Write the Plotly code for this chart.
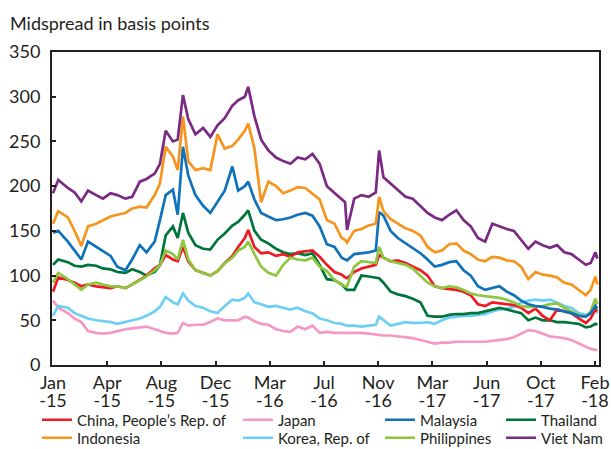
import plotly.graph_objects as go

dates = [
    "2015-01-01", "2015-01-12", "2015-02-01", "2015-02-15", "2015-03-01", "2015-03-15",
    "2015-04-01", "2015-04-15", "2015-05-01", "2015-05-15", "2015-06-01", "2015-06-15",
    "2015-07-01", "2015-07-15", "2015-08-01", "2015-08-12", "2015-08-24", "2015-09-08",
    "2015-09-18", "2015-09-29", "2015-10-10", "2015-10-25", "2015-11-10", "2015-11-25",
    "2015-12-10", "2015-12-25", "2016-01-10", "2016-01-22", "2016-02-05", "2016-02-12",
    "2016-02-25", "2016-03-10", "2016-03-25", "2016-04-10", "2016-04-25", "2016-05-10",
    "2016-05-25", "2016-06-10", "2016-06-25", "2016-07-10", "2016-07-25", "2016-08-10",
    "2016-08-25", "2016-09-01", "2016-09-05", "2016-09-20", "2016-10-05", "2016-10-20",
    "2016-11-04", "2016-11-11", "2016-11-20", "2016-12-05", "2016-12-20", "2017-01-05",
    "2017-01-20", "2017-02-05", "2017-02-20", "2017-03-07", "2017-03-22", "2017-04-06",
    "2017-04-21", "2017-05-06", "2017-05-21", "2017-06-05", "2017-06-20", "2017-07-05",
    "2017-07-20", "2017-08-04", "2017-08-19", "2017-09-03", "2017-09-18", "2017-10-03",
    "2017-10-18", "2017-11-02", "2017-11-17", "2017-12-02", "2017-12-17", "2018-01-01",
    "2018-01-16", "2018-01-26", "2018-02-05", "2018-02-09",
]

viet_nam = [192, 207, 198, 193, 183, 195, 190, 186, 192, 190, 186, 188, 205, 208, 214, 225,
            262, 250, 252, 302, 275, 258, 265, 255, 268, 276, 290, 296, 300, 311, 278, 252,
            240, 232, 228, 225, 232, 230, 236, 225, 200, 192, 185, 182, 151, 186, 190, 188,
            193, 240, 210, 203, 196, 188, 186, 178, 170, 165, 162, 168, 173, 162, 155, 142,
            138, 158, 155, 152, 150, 140, 130, 138, 134, 131, 134, 126, 124, 118, 112, 114,
            126, 119]
indonesia = [158, 172, 165, 150, 133, 155, 158, 162, 166, 168, 170, 175, 177, 176, 190, 203,
             244, 233, 218, 278, 228, 218, 220, 218, 258, 242, 245, 252, 262, 270, 242, 182,
             205, 200, 192, 195, 199, 198, 192, 185, 162, 158, 142, 140, 137, 150, 152, 156,
             158, 188, 172, 163, 158, 153, 150, 145, 132, 126, 128, 135, 136, 128, 124, 118,
             116, 121, 120, 117, 116, 110, 96, 104, 101, 100, 98, 92, 90, 84, 78, 84,
             99, 90]
malaysia = [148, 150, 138, 128, 118, 138, 132, 128, 122, 110, 106, 118, 134, 126, 138, 162,
            190, 196, 168, 244, 212, 190, 178, 170, 182, 195, 222, 195, 200, 205, 185, 170,
            166, 162, 163, 165, 168, 170, 167, 155, 135, 132, 120, 118, 117, 124, 125, 126,
            128, 171, 167, 150, 142, 136, 130, 125, 118, 110, 112, 115, 116, 106, 100, 88,
            84, 86, 88, 82, 78, 72, 68, 66, 65, 63, 62, 60, 58, 55, 54, 58,
            66, 63]
thailand = [112, 118, 115, 111, 110, 112, 111, 108, 107, 104, 103, 107, 104, 100, 104, 112,
            145, 155, 142, 170, 148, 134, 130, 129, 140, 147, 156, 160, 168, 173, 150, 140,
            136, 130, 126, 124, 125, 123, 125, 112, 96, 95, 90, 86, 84, 84, 100, 99,
            98, 97, 92, 82, 79, 77, 74, 70, 55, 54, 54, 56, 57, 57, 58, 58,
            60, 62, 64, 62, 60, 58, 50, 53, 50, 50, 48, 48, 47, 46, 42, 43,
            46, 45]
china = [82, 98, 95, 92, 88, 90, 88, 87, 86, 88, 86, 90, 95, 100, 108, 112,
         123, 118, 116, 132, 116, 106, 103, 100, 105, 114, 122, 132, 142, 151, 132, 125,
         126, 122, 124, 121, 126, 127, 128, 121, 112, 104, 101, 98, 97, 104, 108, 110,
         112, 123, 120, 116, 117, 114, 110, 106, 100, 88, 86, 85, 84, 82, 78, 68,
         66, 70, 69, 68, 67, 64, 58, 63, 55, 50, 62, 60, 58, 52, 47, 52,
         62, 60]
philippines = [92, 103, 96, 90, 84, 90, 92, 90, 88, 88, 86, 90, 95, 99, 106, 112,
               128, 124, 118, 140, 118, 106, 103, 100, 105, 114, 120, 128, 132, 138, 124, 110,
               103, 100, 112, 120, 118, 117, 120, 110, 105, 95, 90, 88, 88, 110, 116, 115,
               114, 132, 120, 116, 114, 112, 108, 100, 92, 88, 86, 88, 87, 84, 80, 78,
               77, 76, 75, 73, 70, 66, 65, 65, 66, 68, 69, 64, 60, 56, 54, 60,
               74, 68]
korea = [55, 66, 64, 58, 55, 52, 50, 49, 48, 46, 48, 50, 52, 55, 60, 65,
         76, 70, 68, 80, 72, 66, 64, 60, 58, 66, 73, 72, 75, 80, 70, 68,
         65, 66, 64, 62, 64, 60, 58, 52, 50, 47, 46, 45, 44, 44, 43, 44,
         45, 54, 50, 44, 46, 48, 47, 47, 48, 46, 50, 53, 54, 55, 55, 56,
         57, 60, 62, 63, 65, 70, 72, 73, 72, 73, 70, 66, 64, 58, 56, 57,
         62, 58]
japan = [72, 64, 58, 52, 48, 38, 36, 35, 36, 38, 40, 41, 42, 43, 40, 38,
         36, 35, 36, 47, 44, 45, 45, 48, 52, 50, 50, 50, 54, 53, 49, 46,
         45, 40, 38, 37, 43, 40, 44, 36, 37, 36, 36, 36, 36, 36, 36, 35,
         34, 34, 33, 33, 32, 31, 30, 28, 26, 24, 25, 25, 26, 26, 26, 26,
         26, 27, 28, 29, 31, 35, 39, 38, 35, 32, 31, 30, 28, 24, 20, 18,
         17, 17]

tick_dates = ["2015-01-01", "2015-04-24", "2015-08-15", "2015-12-06", "2016-03-28",
              "2016-07-19", "2016-11-09", "2017-03-02", "2017-06-23", "2017-10-14",
              "2018-02-04"]
tick_months = ["Jan", "Apr", "Aug", "Dec", "Mar", "Jul", "Nov", "Mar", "Jun", "Oct", "Feb"]
tick_years = ["-15", "-15", "-15", "-15", "-16", "-16", "-16", "-17", "-17", "-17", "-18"]

# (name, values, colour, legend column left px, legend row centre px)
series = [
    ("Japan", japan, "#F49AC2", 238, 420),
    ("Korea, Rep. of", korea, "#6DCFF6", 238, 438),
    ("Thailand", thailand, "#00753A", 501, 420),
    ("China, People\u2019s Rep. of", china, "#ED1C24", 37, 420),
    ("Philippines", philippines, "#8DC63F", 380, 438),
    ("Malaysia", malaysia, "#0F72BA", 380, 420),
    ("Indonesia", indonesia, "#F7941D", 37, 438),
    ("Viet Nam", viet_nam, "#7B2A83", 501, 438),
]

FONT = "Lato, 'Open Sans', sans-serif"
TXT = "#231F20"
L, R, T, B = 52, 599, 52, 365
XRANGE = ["2014-12-29 22:00", "2018-02-12 10:00"]

fig = go.Figure()
legends = {}
for i, (name, vals, color, lx, ly) in enumerate(series):
    lid = "legend" if i == 0 else f"legend{i + 1}"
    fig.add_trace(go.Scatter(
        x=dates, y=vals, mode="lines", name=name,
        line=dict(color=color, width=2.7), legend=lid,
    ))
    legends[lid] = dict(
        x=(lx - L) / (R - L), xref="paper", xanchor="left",
        y=(B - ly) / (B - T), yref="paper", yanchor="middle",
        orientation="v", bgcolor="rgba(0,0,0,0)", borderwidth=0,
        font=dict(family=FONT, size=15, color=TXT), itemwidth=30,
    )

# empty helper trace so the second row of x labels (years) has an axis
fig.add_trace(go.Scatter(x=[], y=[], xaxis="x2", showlegend=False, hoverinfo="skip"))

fig.update_layout(
    width=611, height=449,
    margin=dict(l=L, r=611 - R, t=T, b=449 - B, autoexpand=False),
    paper_bgcolor="white", plot_bgcolor="white",
    font=dict(family=FONT, color=TXT),
    title=dict(text="Midspread in basis points", x=10 / 611, xref="container",
               xanchor="left", y=1 - 24 / 449, yref="container", yanchor="middle",
               font=dict(family=FONT, size=18, color=TXT)),
    showlegend=True,
    xaxis=dict(
        type="date", range=XRANGE,
        tickvals=tick_dates, ticktext=tick_months,
        ticks="inside", ticklen=4, tickwidth=1.5, tickcolor=TXT,
        showline=True, linecolor=TXT, linewidth=2, mirror=True,
        showgrid=False, zeroline=False,
        tickfont=dict(family=FONT, size=18, color=TXT),
    ),
    xaxis2=dict(
        type="date", range=XRANGE, overlaying="x", anchor="y", side="bottom",
        tickvals=tick_dates, ticktext=tick_years,
        ticks="outside", ticklen=19, tickcolor="rgba(0,0,0,0)",
        showline=False, showgrid=False, zeroline=False,
        tickfont=dict(family=FONT, size=18, color=TXT),
    ),
    yaxis=dict(
        range=[0, 350], dtick=50, tick0=0,
        ticks="inside", ticklen=4, tickwidth=1.5, tickcolor=TXT,
        showline=True, linecolor=TXT, linewidth=2, mirror=True,
        showgrid=False, zeroline=False, ticklabelstandoff=6,
        tickfont=dict(family=FONT, size=18, color=TXT),
    ),
    **legends,
)

fig.write_html("out.html", config={"displayModeBar": False},
               post_script="document.body.style.margin='0';document.body.style.overflow='hidden';")
